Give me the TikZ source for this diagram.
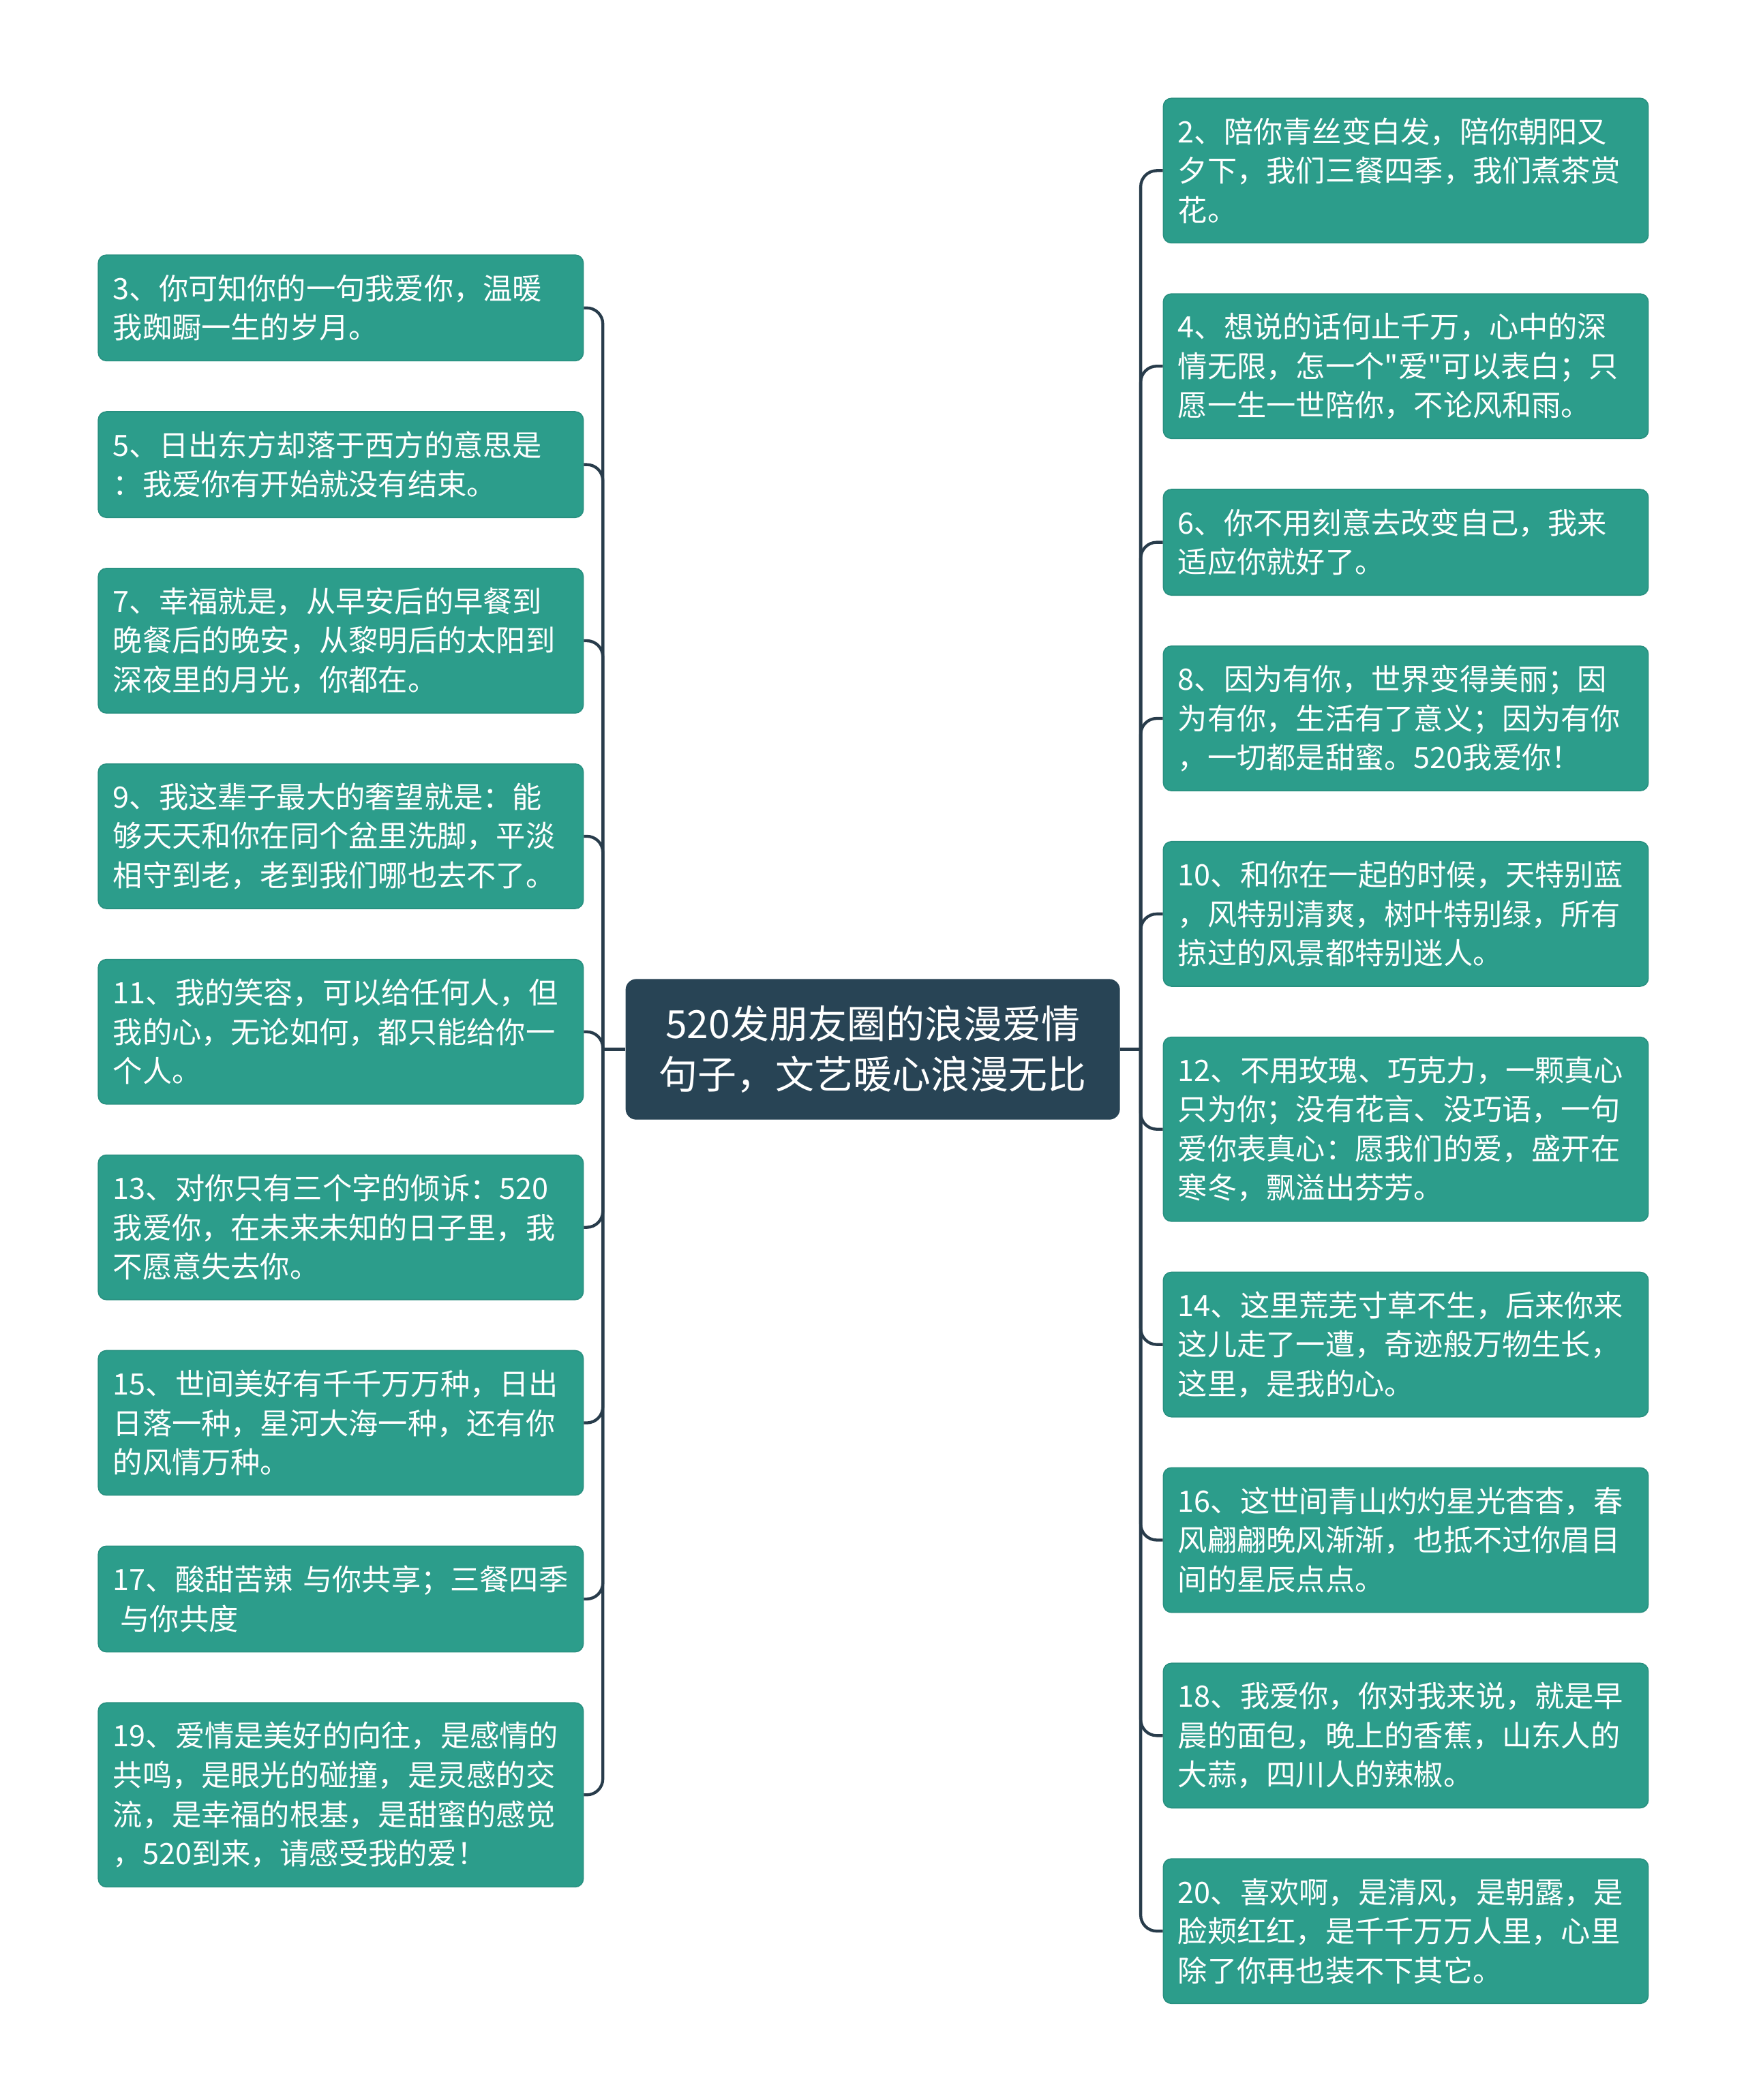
\documentclass[tikz,border=0pt]{standalone}
\usepackage{fontspec}
\newfontfamily\cjkfont{Noto Sans CJK SC}
\usetikzlibrary{positioning}
\definecolor{leafgreen}{RGB}{44,157,139}
\definecolor{rootslate}{RGB}{40,68,85}
\definecolor{linkslate}{RGB}{40,60,75}
\begin{document}
\begin{tikzpicture}[x=0.5pt,y=-0.5pt,
    leaf/.style={draw=leafgreen!92!black, line width=0.4pt, fill=leafgreen, rounded corners=3pt,
                 text=white, text width=170pt, align=left, inner xsep=5.5pt, inner ysep=2pt,
                 font=\cjkfont\fontsize{11}{14.65}\selectfont},
    lines2/.style={minimum height=39.5pt},
    lines3/.style={minimum height=54pt},
    lines4/.style={minimum height=68.75pt},
    root/.style={fill=rootslate, rounded corners=4pt, text=white, align=center,
                 minimum width=184.5pt, minimum height=52.5pt, font=\cjkfont\fontsize{14.5}{19}\selectfont},
    link/.style={draw=linkslate, line width=1.1pt, rounded corners=6pt}]
                %%%  Page frame
                \useasboundingbox (0,0) rectangle (1303,1568);
                %%%  Root
                \node[root] (root) at (651.5,783.5) {520发朋友圈的浪漫爱情\\句子，文艺暖心浪漫无比};
                %%%  Left column
                \node[leaf, lines2, anchor=north west] (l3) at (73,190) {3、你可知你的一句我爱你，温暖\\我踟蹰一生的岁月。};
                \node[leaf, lines2, below=18.6pt of l3] (l5) {5、日出东方却落于西方的意思是\\：我爱你有开始就没有结束。};
                \node[leaf, lines3, below=18.6pt of l5] (l7) {7、幸福就是，从早安后的早餐到\\晚餐后的晚安，从黎明后的太阳到\\深夜里的月光，你都在。};
                \node[leaf, lines3, below=18.6pt of l7] (l9) {9、我这辈子最大的奢望就是：能\\够天天和你在同个盆里洗脚，平淡\\相守到老，老到我们哪也去不了。};
                \node[leaf, lines3, below=18.6pt of l9] (l11) {11、我的笑容，可以给任何人，但\\我的心，无论如何，都只能给你一\\个人。};
                \node[leaf, lines3, below=18.6pt of l11] (l13) {13、对你只有三个字的倾诉：520\\我爱你，在未来未知的日子里，我\\不愿意失去你。};
                \node[leaf, lines3, below=18.6pt of l13] (l15) {15、世间美好有千千万万种，日出\\日落一种，星河大海一种，还有你\\的风情万种。};
                \node[leaf, lines2, below=18.6pt of l15] (l17) {17、酸甜苦辣 与你共享；三餐四季\\\hspace*{0.25em}与你共度};
                \node[leaf, lines4, below=18.6pt of l17] (l19) {19、爱情是美好的向往，是感情的\\共鸣，是眼光的碰撞，是灵感的交\\流，是幸福的根基，是甜蜜的感觉\\，520到来，请感受我的爱！};
                %%%  Right column
                \node[leaf, lines3, anchor=north west] (r2) at (868,73) {2、陪你青丝变白发，陪你朝阳又\\夕下，我们三餐四季，我们煮茶赏\\花。};
                \node[leaf, lines3, below=18.6pt of r2] (r4) {4、想说的话何止千万，心中的深\\情无限，怎一个"爱"可以表白；只\\愿一生一世陪你，不论风和雨。};
                \node[leaf, lines2, below=18.6pt of r4] (r6) {6、你不用刻意去改变自己，我来\\适应你就好了。};
                \node[leaf, lines3, below=18.6pt of r6] (r8) {8、因为有你，世界变得美丽；因\\为有你，生活有了意义；因为有你\\，一切都是甜蜜。520我爱你！};
                \node[leaf, lines3, below=18.6pt of r8] (r10) {10、和你在一起的时候，天特别蓝\\，风特别清爽，树叶特别绿，所有\\掠过的风景都特别迷人。};
                \node[leaf, lines4, below=18.6pt of r10] (r12) {12、不用玫瑰、巧克力，一颗真心\\只为你；没有花言、没巧语，一句\\爱你表真心：愿我们的爱，盛开在\\寒冬，飘溢出芬芳。};
                \node[leaf, lines3, below=18.6pt of r12] (r14) {14、这里荒芜寸草不生，后来你来\\这儿走了一遭，奇迹般万物生长，\\这里，是我的心。};
                \node[leaf, lines3, below=18.6pt of r14] (r16) {16、这世间青山灼灼星光杳杳，春\\风翩翩晚风渐渐，也抵不过你眉目\\间的星辰点点。};
                \node[leaf, lines3, below=18.6pt of r16] (r18) {18、我爱你，你对我来说，就是早\\晨的面包，晚上的香蕉，山东人的\\大蒜，四川人的辣椒。};
                \node[leaf, lines3, below=18.6pt of r18] (r20) {20、喜欢啊，是清风，是朝露，是\\脸颊红红，是千千万万人里，心里\\除了你再也装不下其它。};
                %%%  Connectors
                \coordinate (lj) at (450,783.5);
                \coordinate (rj) at (851.5,783.5);
                \draw[link] (root.west) -- (lj);
                \draw[link] (root.east) -- (rj);
                \foreach \n in {l3,l5,l7,l9,l11,l13,l15,l17,l19}
                    \draw[link] (lj) |- (\n.east);
                \foreach \n in {r2,r4,r6,r8,r10,r12,r14,r16,r18,r20}
                    \draw[link] (rj) |- (\n.west);
\end{tikzpicture}
\end{document}
